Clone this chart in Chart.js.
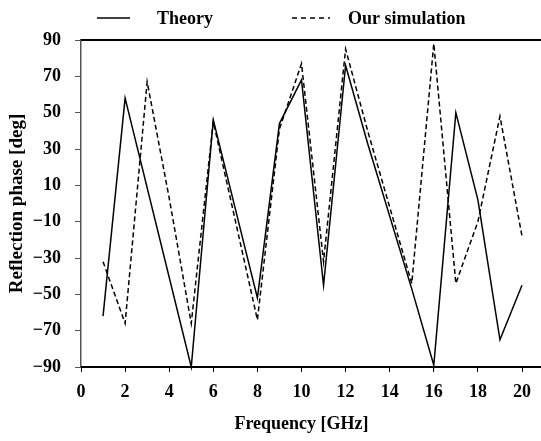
<!DOCTYPE html>
<html>
<head>
<meta charset="utf-8">
<script src="https://cdn.jsdelivr.net/npm/chart.js@4.4.1/dist/chart.umd.min.js"></script>
<style>
  body { margin: 0; background: #fff; }
  canvas { display: block; }
</style>
</head>
<body>
<canvas id="myChart" width="541" height="441"></canvas>
<script>
const theoryFreq = [1, 2, 5, 6, 8, 9, 10, 11, 12, 13, 15, 16, 17, 18, 19, 20]
const theory = [-62, 58, -90, 46, -52, 44, 68, -45, 76, 33, -47, -89, 50, 2, -75, -45]

const simFreq = [1, 2, 3, 4, 5, 6, 8, 9, 10, 11, 12, 13, 15, 16, 17, 18, 19, 20]
const simulation = [-32, -66, 67, 3, -66, 45, -64, 41, 77, -32, 85, 40, -44, 88, -44, -10, 48, -18]

const xTicks = [0, 2, 4, 6, 8, 10, 12, 14, 16, 18, 20]
const yTicks = [-90, -70, -50, -30, -10, 10, 30, 50, 70, 90]

const seriesNames = ["Theory", "Our simulation"]

const serif = "'Liberation Serif', 'Times New Roman', serif"

function points(xs, ys) {
    return xs.map((x, i) => ({ x: x, y: ys[i] }))
}

// frame lines + legend, drawn over the chart
const framePlugin = {
    id: "frame",
    afterDraw(chart) {
        const ctx = chart.ctx
        const a = chart.chartArea
        ctx.save()
        ctx.strokeStyle = "#000"
        ctx.lineWidth = 2
        ctx.beginPath()
        ctx.moveTo(a.left, a.top)
        ctx.lineTo(chart.width, a.top)
        ctx.moveTo(a.left, a.bottom)
        ctx.lineTo(chart.width, a.bottom)
        ctx.stroke()

        // legend
        ctx.lineWidth = 1.5
        ctx.beginPath()
        ctx.moveTo(97, 18)
        ctx.lineTo(130, 18)
        ctx.stroke()
        ctx.setLineDash([5, 4])
        ctx.beginPath()
        ctx.moveTo(292, 18)
        ctx.lineTo(330, 18)
        ctx.stroke()
        ctx.setLineDash([])
        ctx.fillStyle = "#000"
        ctx.font = "bold 18px " + serif
        ctx.textBaseline = "alphabetic"
        ctx.fillText(seriesNames[0], 157, 24)
        ctx.fillText(seriesNames[1], 348, 24)
        ctx.restore()
    }
}

const ctx = document.getElementById("myChart").getContext("2d")

new Chart(ctx, {
    type: "line",
    data: {
        datasets: [
            {
                label: seriesNames[0],
                data: points(theoryFreq, theory),
                borderColor: "#000",
                borderWidth: 1.5,
                pointRadius: 0,
                tension: 0,
                clip: false
            }, {
                label: seriesNames[1],
                data: points(simFreq, simulation),
                borderColor: "#000",
                borderWidth: 1.5,
                borderDash: [5, 3],
                pointRadius: 0,
                tension: 0,
                clip: false
            }
        ]
    },
    plugins: [framePlugin],
    options: {
        responsive: false,
        animation: false,
        devicePixelRatio: 1,
        layout: { padding: { top: 40, right: 19, left: 0, bottom: 0 } },
        plugins: { legend: { display: false }, tooltip: { enabled: false } },
        scales: {
            x: {
                type: "linear",
                min: 0,
                max: 20,
                afterBuildTicks: (scale) => { scale.ticks = xTicks.map(v => ({ value: v })) },
                afterFit: (scale) => { scale.height = 74 },
                grid: { drawOnChartArea: false, drawTicks: true, tickLength: 5, color: "#000", lineWidth: 1 },
                border: { display: false },
                ticks: { color: "#000", padding: 10, maxRotation: 0, font: { family: serif, size: 18, weight: "bold" } },
                title: {
                    display: true,
                    text: "Frequency [GHz]",
                    color: "#000",
                    padding: { top: 6, bottom: 6 },
                    font: { family: serif, size: 18, weight: "bold" }
                }
            },
            y: {
                min: -90,
                max: 90,
                afterBuildTicks: (scale) => { scale.ticks = yTicks.map(v => ({ value: v })) },
                afterFit: (scale) => { scale.width = 81 },
                grid: { drawOnChartArea: false, drawTicks: true, tickLength: 6, color: "#555", lineWidth: 1 },
                border: { display: true, color: "#555", width: 1.5 },
                ticks: {
                    color: "#000",
                    padding: 14,
                    font: { family: serif, size: 18, weight: "bold" },
                    callback: (value) => value < 0 ? "\u2212" + Math.abs(value) : "" + value
                },
                title: {
                    display: true,
                    text: "Reflection phase [deg]",
                    color: "#000",
                    padding: { top: 6, bottom: 0 },
                    font: { family: serif, size: 19, weight: "bold" }
                }
            }
        }
    }
})
</script>
</body>
</html>
